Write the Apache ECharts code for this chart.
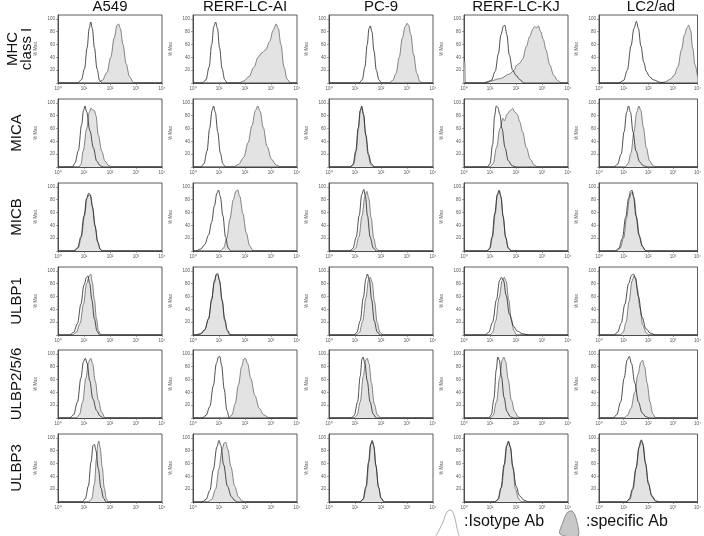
<!DOCTYPE html>
<html><head><meta charset="utf-8">
<script src="https://cdn.jsdelivr.net/npm/echarts@6/dist/echarts.min.js"></script>
<style>html,body{margin:0;padding:0;background:#fff}#c{width:704px;height:536px}</style>
</head><body><div id="c"></div>
<script>
const cellLines = ['A549', 'RERF-LC-AI', 'PC-9', 'RERF-LC-KJ', 'LC2/ad'];
const markers = [['MHC', 'class I'], ['MICA'], ['MICB'], ['ULBP1'], ['ULBP2/5/6'], ['ULBP3']];
const xTickLabels = ['10⁰', '10¹', '10²', '10³', '10⁴'];
const yTickLabels = [20, 40, 60, 80, 100];

// curves: [log10 fluorescence, % of max]
const mhcIso = [
  [[0,0],[0.75,0],[0.9,5],[1.02,22],[1.12,55],[1.2,85],[1.26,95],[1.32,85],[1.4,55],[1.5,22],[1.6,4],[1.7,0],[4,0]],
  [[0,0],[0.35,0],[0.5,5],[0.62,25],[0.72,60],[0.8,88],[0.87,95],[0.94,85],[1.02,55],[1.12,22],[1.22,5],[1.32,0],[4,0]],
  [[0,0],[1.15,0],[1.28,5],[1.38,25],[1.47,60],[1.54,85],[1.59,89],[1.65,80],[1.73,50],[1.82,20],[1.92,5],[2.02,0],[4,0]],
  [[0,0],[0.8,0],[0.9,1],[1.05,4],[1.2,18],[1.32,45],[1.42,75],[1.52,89],[1.57,90],[1.65,75],[1.74,44],[1.87,20],[2.0,12],[2.13,6],[2.3,0],[4,0]],
  [[0,0],[0.8,0],[1.0,4],[1.15,20],[1.3,58],[1.42,85],[1.52,96],[1.6,85],[1.7,58],[1.82,32],[1.92,18],[2.05,10],[2.2,5],[2.5,1],[2.7,0],[4,0]]
];
const mhcSpec = [
  [[0,0],[1.52,0],[1.7,4],[1.88,16],[2.03,40],[2.16,70],[2.27,90],[2.33,92],[2.4,85],[2.5,60],[2.62,30],[2.75,10],[2.9,1],[3.0,0],[4,0]],
  [[0,0],[1.75,0],[1.95,3],[2.15,10],[2.35,25],[2.5,40],[2.65,47],[2.8,52],[2.95,65],[3.08,82],[3.2,92],[3.28,85],[3.38,60],[3.5,25],[3.62,6],[3.75,0],[4,0]],
  [[0,0],[2.3,0],[2.45,4],[2.58,15],[2.7,40],[2.82,70],[2.93,88],[3.0,93],[3.06,90],[3.15,75],[3.25,45],[3.38,15],[3.5,2],[3.6,0],[4,0]],
  [[0,33],[0.03,33],[0.05,0],[0.7,0],[1.0,3],[1.4,7],[1.75,14],[1.93,20],[2.03,28],[2.15,31],[2.25,37],[2.4,57],[2.52,72],[2.65,84],[2.72,88],[2.8,86],[2.86,89],[2.95,80],[3.05,68],[3.15,52],[3.3,28],[3.45,12],[3.6,4],[3.75,0],[4,0]],
  [[0,0],[2.5,0],[2.7,2],[2.9,6],[3.05,12],[3.2,25],[3.35,52],[3.47,75],[3.57,86],[3.64,90],[3.72,82],[3.8,55],[3.9,28],[4.0,10]]
];
const micaIso = [
  [[0,0],[0.55,0],[0.65,6],[0.78,25],[0.91,66],[0.98,88],[1.04,95],[1.1,86],[1.23,56],[1.36,30],[1.49,9],[1.62,2],[1.75,0],[4,0]],
  [[0,0],[0.3,0],[0.42,5],[0.54,25],[0.64,60],[0.73,88],[0.79,95],[0.86,85],[0.95,55],[1.05,22],[1.15,5],[1.25,0],[4,0]],
  [[0,0],[0.8,0],[0.92,4],[1.03,25],[1.12,60],[1.2,88],[1.26,95],[1.33,82],[1.42,50],[1.52,20],[1.63,5],[1.75,0],[4,0]],
  [[0,0],[0.9,0],[1.0,5],[1.1,35],[1.18,80],[1.24,95],[1.3,93],[1.38,82],[1.46,60],[1.58,30],[1.7,10],[1.85,2],[2.0,0],[4,0]],
  [[0,0],[0.6,0],[0.75,4],[0.9,20],[1.02,55],[1.12,85],[1.2,95],[1.28,85],[1.38,55],[1.5,25],[1.65,8],[1.8,2],[1.98,0],[4,0]]
];
const micaSpec = [
  [[0,0],[0.8,0],[0.88,4],[0.97,25],[1.1,59],[1.2,85],[1.27,92],[1.33,89],[1.4,88],[1.46,80],[1.55,50],[1.68,25],[1.81,9],[1.95,2],[2.1,0],[4,0]],
  [[0,0],[1.55,0],[1.75,4],[1.95,15],[2.12,38],[2.27,65],[2.4,88],[2.49,95],[2.58,87],[2.7,62],[2.85,32],[3.02,12],[3.2,3],[3.4,0],[4,0]],
  [[0,0],[0.85,0],[0.95,4],[1.05,25],[1.13,60],[1.21,88],[1.26,93],[1.32,82],[1.41,50],[1.5,20],[1.6,4],[1.72,0],[4,0]],
  [[0,0],[1.0,0],[1.12,5],[1.25,30],[1.38,60],[1.5,76],[1.56,72],[1.65,82],[1.78,88],[1.87,91],[1.95,86],[2.05,82],[2.15,70],[2.25,55],[2.4,30],[2.55,12],[2.7,3],[2.85,0],[4,0]],
  [[0,0],[1.05,0],[1.18,5],[1.3,22],[1.42,55],[1.53,85],[1.62,95],[1.7,88],[1.8,62],[1.92,30],[2.05,10],[2.2,2],[2.32,0],[4,0]]
];
const micbIso = [
  [[0,0],[0.6,0],[0.75,5],[0.88,22],[1.0,55],[1.1,82],[1.18,90],[1.24,88],[1.32,70],[1.42,40],[1.52,15],[1.62,3],[1.7,0],[4,0]],
  [[0,0],[0.1,0],[0.3,3],[0.45,10],[0.6,25],[0.72,45],[0.82,70],[0.92,90],[0.98,95],[1.05,85],[1.15,55],[1.25,22],[1.35,5],[1.45,0],[4,0]],
  [[0,0],[0.8,0],[0.92,4],[1.05,22],[1.16,55],[1.26,88],[1.34,96],[1.4,85],[1.48,55],[1.58,22],[1.7,5],[1.82,0],[4,0]],
  [[0,0],[0.88,0],[0.98,4],[1.08,22],[1.18,58],[1.28,88],[1.35,95],[1.42,85],[1.5,55],[1.6,22],[1.7,5],[1.82,0],[4,0]],
  [[0,0],[0.65,0],[0.8,4],[0.95,20],[1.08,52],[1.2,82],[1.28,93],[1.33,95],[1.4,85],[1.5,55],[1.62,25],[1.75,8],[1.88,1],[1.97,0],[4,0]]
];
const micbSpec = [
  [[0,0],[0.65,0],[0.78,5],[0.9,22],[1.02,55],[1.12,83],[1.2,88],[1.26,85],[1.34,66],[1.44,36],[1.54,12],[1.64,2],[1.72,0],[4,0]],
  [[0,0],[1.05,0],[1.18,5],[1.3,20],[1.42,50],[1.55,80],[1.65,93],[1.72,95],[1.8,85],[1.92,58],[2.05,28],[2.18,8],[2.3,1],[2.4,0],[4,0]],
  [[0,0],[0.9,0],[1.02,4],[1.15,22],[1.27,55],[1.38,85],[1.46,93],[1.53,82],[1.62,52],[1.72,20],[1.82,4],[1.94,0],[4,0]],
  [[0,0],[0.9,0],[1.0,4],[1.1,22],[1.2,58],[1.29,88],[1.36,93],[1.43,82],[1.51,52],[1.61,20],[1.71,4],[1.83,0],[4,0]],
  [[0,0],[0.7,0],[0.85,4],[1.0,20],[1.12,52],[1.24,82],[1.3,90],[1.36,92],[1.43,82],[1.53,52],[1.65,22],[1.78,6],[1.9,0],[4,0]]
];
const ulbp1Iso = [
  [[0,0],[0.45,0],[0.6,4],[0.75,18],[0.88,48],[1.0,78],[1.1,90],[1.15,92],[1.22,80],[1.3,55],[1.4,25],[1.5,6],[1.6,0],[4,0]],
  [[0,0],[0.1,0],[0.3,2],[0.45,8],[0.6,25],[0.72,55],[0.82,82],[0.9,94],[0.95,96],[1.02,85],[1.12,55],[1.22,25],[1.32,8],[1.42,1],[1.5,0],[4,0]],
  [[0,0],[0.95,0],[1.07,4],[1.2,22],[1.32,58],[1.42,88],[1.48,95],[1.55,86],[1.64,55],[1.74,22],[1.85,5],[1.97,0],[4,0]],
  [[0,0],[0.8,0],[0.95,4],[1.1,20],[1.25,55],[1.37,85],[1.44,90],[1.52,85],[1.62,62],[1.75,32],[1.9,14],[2.05,6],[2.25,2],[2.5,0],[4,0]],
  [[0,0],[0.6,0],[0.75,4],[0.9,18],[1.05,48],[1.2,80],[1.32,93],[1.4,95],[1.48,88],[1.6,60],[1.75,28],[1.9,10],[2.08,3],[2.3,0],[4,0]]
];
const ulbp1Spec = [
  [[0,0],[0.55,0],[0.7,4],[0.85,18],[0.98,48],[1.1,80],[1.2,92],[1.26,95],[1.32,82],[1.4,55],[1.48,25],[1.56,6],[1.65,0],[4,0]],
  [[0,0],[0.1,0],[0.3,2],[0.45,8],[0.6,26],[0.72,57],[0.82,85],[0.9,95],[0.96,93],[1.02,84],[1.12,52],[1.22,22],[1.32,6],[1.42,0],[4,0]],
  [[0,0],[1.05,0],[1.17,4],[1.3,22],[1.42,58],[1.52,86],[1.59,90],[1.66,82],[1.75,52],[1.85,20],[1.96,4],[2.08,0],[4,0]],
  [[0,0],[1.0,0],[1.1,4],[1.22,22],[1.35,58],[1.47,85],[1.55,90],[1.62,84],[1.72,55],[1.82,25],[1.92,7],[2.02,0],[4,0]],
  [[0,0],[0.85,0],[0.98,4],[1.1,20],[1.22,52],[1.34,84],[1.42,92],[1.48,90],[1.56,72],[1.66,42],[1.78,15],[1.92,3],[2.05,0],[4,0]]
];
const ulbp256Iso = [
  [[0,0],[0.45,0],[0.6,5],[0.75,25],[0.88,62],[0.98,88],[1.05,93],[1.12,85],[1.22,58],[1.34,30],[1.48,12],[1.62,3],[1.75,0],[4,0]],
  [[0,0],[0.35,0],[0.5,4],[0.65,18],[0.78,50],[0.9,85],[0.98,95],[1.03,96],[1.1,82],[1.2,45],[1.3,12],[1.4,0],[4,0]],
  [[0,0],[0.85,0],[0.97,4],[1.1,25],[1.2,65],[1.27,92],[1.31,95],[1.38,85],[1.47,58],[1.58,25],[1.7,6],[1.82,0],[4,0]],
  [[0,0],[0.95,0],[1.05,5],[1.15,30],[1.24,75],[1.3,95],[1.36,90],[1.44,65],[1.54,32],[1.65,10],[1.78,2],[1.9,0],[4,0]],
  [[0,0],[0.57,0],[0.72,5],[0.88,25],[1.02,62],[1.14,90],[1.23,96],[1.32,85],[1.45,55],[1.6,25],[1.75,8],[1.9,2],[2.05,0],[4,0]]
];
const ulbp256Spec = [
  [[0,0],[0.7,0],[0.82,5],[0.95,25],[1.07,62],[1.18,88],[1.26,93],[1.33,85],[1.43,58],[1.55,28],[1.68,9],[1.8,1],[1.88,0],[4,0]],
  [[0,0],[1.38,0],[1.5,5],[1.62,22],[1.75,52],[1.87,80],[1.96,92],[2.02,93],[2.1,85],[2.22,62],[2.38,35],[2.55,15],[2.72,5],[2.9,1],[3.0,0],[4,0]],
  [[0,0],[0.95,0],[1.08,4],[1.2,25],[1.32,65],[1.41,90],[1.47,93],[1.54,85],[1.63,55],[1.74,22],[1.86,5],[2.0,0],[4,0]],
  [[0,0],[1.0,0],[1.12,4],[1.25,25],[1.37,62],[1.47,90],[1.53,95],[1.6,88],[1.7,60],[1.82,28],[1.95,10],[2.08,2],[2.2,0],[4,0]],
  [[0,0],[1.0,0],[1.15,4],[1.3,15],[1.45,40],[1.58,68],[1.7,87],[1.77,90],[1.85,80],[1.95,55],[2.07,25],[2.18,7],[2.3,0],[4,0]]
];
const ulbp3Iso = [
  [[0,0],[0.92,0],[1.05,5],[1.17,25],[1.27,62],[1.35,88],[1.4,90],[1.46,80],[1.55,52],[1.65,22],[1.75,6],[1.85,0],[4,0]],
  [[0,0],[0.35,0],[0.5,4],[0.65,18],[0.78,50],[0.92,86],[1.0,96],[1.07,88],[1.18,58],[1.32,25],[1.48,8],[1.62,2],[1.72,0],[4,0]],
  [[0,0],[1.18,0],[1.3,4],[1.42,24],[1.52,62],[1.6,90],[1.66,96],[1.72,88],[1.8,58],[1.9,24],[2.0,6],[2.12,0],[4,0]],
  [[0,0],[1.18,0],[1.3,4],[1.42,22],[1.54,58],[1.64,88],[1.71,95],[1.78,86],[1.88,55],[2.0,25],[2.13,10],[2.3,3],[2.5,0],[4,0]],
  [[0,0],[1.08,0],[1.22,4],[1.36,20],[1.5,52],[1.62,85],[1.7,96],[1.77,92],[1.88,62],[2.0,30],[2.14,10],[2.3,2],[2.45,0],[4,0]]
];
const ulbp3Spec = [
  [[0,0],[1.18,0],[1.3,5],[1.4,28],[1.48,68],[1.53,90],[1.57,95],[1.62,85],[1.7,55],[1.78,22],[1.86,5],[1.94,0],[4,0]],
  [[0,0],[0.57,0],[0.72,4],[0.87,20],[1.0,52],[1.12,82],[1.2,92],[1.26,93],[1.34,82],[1.46,55],[1.6,25],[1.75,8],[1.88,2],[1.98,0],[4,0]],
  [[0,0],[1.2,0],[1.32,4],[1.44,24],[1.54,64],[1.61,90],[1.67,94],[1.73,86],[1.81,55],[1.91,22],[2.02,5],[2.14,0],[4,0]],
  [[0,0],[1.2,0],[1.32,4],[1.44,22],[1.56,58],[1.65,88],[1.72,93],[1.79,84],[1.88,52],[1.98,20],[2.1,5],[2.22,0],[4,0]],
  [[0,0],[1.1,0],[1.25,4],[1.38,20],[1.52,55],[1.64,87],[1.73,97],[1.8,88],[1.9,58],[2.02,26],[2.15,8],[2.3,1],[2.42,0],[4,0]]
];

const isoRows = [mhcIso, micaIso, micbIso, ulbp1Iso, ulbp256Iso, ulbp3Iso];
const specRows = [mhcSpec, micaSpec, micbSpec, ulbp1Spec, ulbp256Spec, ulbp3Spec];

const colLeft = [58, 193, 329, 464, 599];
const rowTop = [15, 99, 183, 267, 350, 434];
const W = 104, H = 68;
const FONT = 'Liberation Sans, Arial, sans-serif';

const grids = [], xAxes = [], yAxes = [], series = [], graphics = [];
let gi = 0;
for (let r = 0; r < 6; r++) {
  for (let c = 0; c < 5; c++) {
    grids.push({left: colLeft[c], top: rowTop[r], width: W, height: H, show: true,
      borderColor: '#333', borderWidth: 0.8, backgroundColor: 'transparent', containLabel: false});
    xAxes.push({gridIndex: gi, type: 'value', min: 0, max: 4, interval: 1,
      axisLine: {show: true, lineStyle: {color: '#333', width: 0.8}},
      axisTick: {show: true, length: 2, lineStyle: {color: '#666', width: 0.6}},
      axisLabel: {show: true, fontSize: 4.5, color: '#555', margin: 3, fontFamily: FONT,
        formatter: v => xTickLabels[Math.round(v)]},
      splitLine: {show: false}});
    yAxes.push({gridIndex: gi, type: 'value', min: 0, max: 106, interval: 20,
      name: '% Max', nameLocation: 'middle', nameGap: 20, nameRotate: 90,
      nameTextStyle: {fontSize: 4.5, color: '#555', fontFamily: FONT},
      axisLine: {show: true, lineStyle: {color: '#333', width: 0.8}},
      axisTick: {show: true, length: 2, lineStyle: {color: '#666', width: 0.6}},
      axisLabel: {show: true, fontSize: 4.5, color: '#555', margin: 3, fontFamily: FONT, showMaxLabel: false,
        formatter: v => (yTickLabels.indexOf(v) >= 0 ? String(v) : '')},
      splitLine: {show: false}});
    series.push({type: 'line', xAxisIndex: gi, yAxisIndex: gi, data: specRows[r][c],
      showSymbol: false, smooth: 0.35, smoothMonotone: 'x', silent: true,
      lineStyle: {color: '#666', width: 0.8}, areaStyle: {color: '#e3e3e3', opacity: 1}});
    series.push({type: 'line', xAxisIndex: gi, yAxisIndex: gi, data: isoRows[r][c],
      showSymbol: false, smooth: 0.35, smoothMonotone: 'x', silent: true,
      lineStyle: {color: '#222', width: 0.8}});
    gi++;
  }
}

// column titles
cellLines.forEach((t, c) => {
  graphics.push({type: 'text', x: colLeft[c] + W / 2, y: 7,
    style: {text: t, font: '15px ' + FONT, fill: '#111', textAlign: 'center', textVerticalAlign: 'middle'}});
});
// row labels (rotated)
markers.forEach((lines, r) => {
  const cy = rowTop[r] + H / 2;
  if (lines.length === 2) {
    graphics.push({type: 'text', x: 13, y: cy, rotation: Math.PI / 2,
      style: {text: lines[0], font: '15px ' + FONT, fill: '#111', textAlign: 'center', textVerticalAlign: 'middle'}});
    graphics.push({type: 'text', x: 27, y: cy, rotation: Math.PI / 2,
      style: {text: lines[1], font: '15px ' + FONT, fill: '#111', textAlign: 'center', textVerticalAlign: 'middle'}});
  } else {
    graphics.push({type: 'text', x: 17, y: cy, rotation: Math.PI / 2,
      style: {text: lines[0], font: '15px ' + FONT, fill: '#111', textAlign: 'center', textVerticalAlign: 'middle'}});
  }
});
// legend
graphics.push({type: 'polyline', shape: {points: [[436, 536], [443, 522], [447, 512], [451, 510], [454, 515], [457, 528], [459, 536]], smooth: 0.4},
  style: {stroke: '#999', lineWidth: 0.8, fill: null}});
graphics.push({type: 'text', x: 464, y: 522,
  style: {text: ':Isotype Ab', font: '16px ' + FONT, fill: '#111', textAlign: 'left', textVerticalAlign: 'middle'}});
graphics.push({type: 'polygon', shape: {points: [[560, 534], [563, 522], [567, 513], [572, 511], [576, 518], [578, 536]], smooth: 0.3},
  style: {stroke: '#777', lineWidth: 0.8, fill: '#c8c8c8'}});
graphics.push({type: 'text', x: 586, y: 522,
  style: {text: ':specific Ab', font: '16px ' + FONT, fill: '#111', textAlign: 'left', textVerticalAlign: 'middle'}});

const chart = echarts.init(document.getElementById('c'), null, {renderer: 'canvas'});
chart.setOption({animation: false, backgroundColor: '#fff', grid: grids, xAxis: xAxes, yAxis: yAxes, series: series, graphic: graphics});
</script></body></html>
